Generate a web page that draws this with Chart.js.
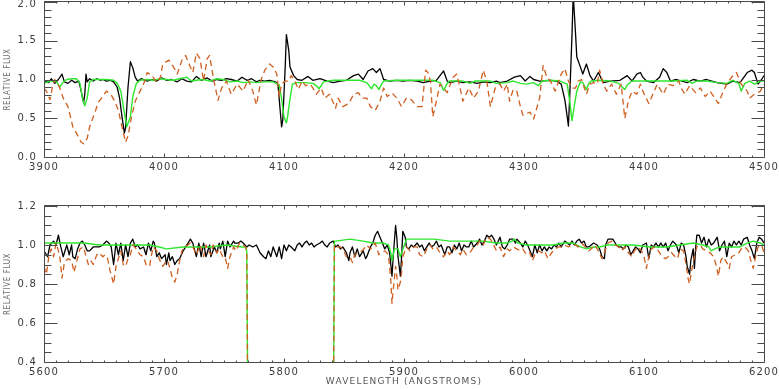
<!DOCTYPE html>
<html>
<head>
<meta charset="utf-8">
<script src="https://cdn.jsdelivr.net/npm/chart.js@4.4.0/dist/chart.umd.min.js"></script>
<style>
  html, body { margin: 0; padding: 0; background: #fff; }
  #wrap { position: relative; width: 779px; height: 389px; overflow: hidden; }
  canvas { position: absolute; left: 0; }
  #top { top: 0; }
  #bottom { top: 200px; }
</style>
</head>
<body>
<div id="wrap">
  <canvas id="top" width="779" height="180"></canvas>
  <canvas id="bottom" width="779" height="189"></canvas>
</div>
<script>
// ---- upper panel (3900-4500 A) ----
const obsWaveA = [3900,3904,3906,3909,3912,3915,3917,3920,3923,3926,3929,3931,3933,3934,3935,3936,3938,3941,3944,3947,3949,3952,3955,3958,3961,3963,3965,3967,3968,3970,3972,3974,3976,3978,3981,3986,3990,3994,3998,4002,4006,4011,4015,4019,4023,4027,4031,4036,4040,4044,4048,4052,4056,4061,4065,4069,4073,4077,
  4080,4084,4088,4093,4095,4097,4098,4099,4101,4102,4104,4105,4108,4111,4115,4120,4124,4130,4136,4141,4147,4152,4158,4162,4166,4170,4174,4177,4180,4183,4188,4194,4199,4205,4211,4216,4222,4227,4230,4233,4236,4238,4244,4249,4255,4261,4266,4272,4277,
  4280,4286,4292,4297,4301,4305,4308,4313,4322,4327,4331,4334,4336,4337,4338,4340,4341,4343,4344,4347,4349,4352,4355,4358,4362,4366,4372,4380,4386,4390,4394,4397,4399,4402,4408,4413,4416,4419,4422,4427,4436,4441,4447,4452,4461,4469,4474,4480,4486,4490,4492,4495,4498,4500];
const obsFluxA = [0.99,0.96,1.01,0.95,1.00,1.07,0.97,0.95,0.99,0.96,0.98,0.85,0.70,0.81,1.07,0.97,1.01,0.98,1.01,0.99,1.00,0.98,0.99,0.97,0.90,0.76,0.52,0.31,0.38,0.90,1.23,1.15,1.03,0.98,1.01,0.98,1.00,0.98,1.02,0.99,1.00,0.97,1.01,0.98,0.97,1.04,0.99,1.02,0.98,1.00,0.99,1.01,1.00,0.98,1.03,0.99,1.01,0.97,
  0.99,0.98,0.99,0.97,0.93,0.57,0.39,0.48,1.16,1.58,1.37,1.16,1.05,1.00,0.99,1.04,0.99,1.01,0.98,0.96,0.98,0.99,1.05,1.07,1.00,1.11,1.14,1.09,1.14,1.00,0.98,0.99,0.98,0.99,0.98,0.96,0.98,0.99,1.05,1.11,0.98,0.96,0.98,0.96,0.97,0.95,0.97,0.96,0.98,
  0.96,0.98,1.03,1.05,0.98,1.04,1.00,0.98,0.99,0.98,0.94,0.74,0.52,0.40,0.74,1.58,2.10,1.58,1.29,1.16,1.07,1.20,1.05,0.98,1.09,0.96,0.98,0.99,1.05,0.98,1.07,1.09,1.03,0.98,0.96,1.03,1.14,1.09,0.98,1.00,0.96,1.00,0.98,1.00,0.96,0.94,0.98,0.96,1.09,1.12,1.09,0.94,1.00,1.05];

const fitWaveA = [3900,3905,3909,3911,3913,3916,3919,3923,3927,3930,3932,3934,3936,3938,3941,3947,3952,3958,3961,3964,3967,3969,3972,3974,3977,3980,3986,3991,3997,4002,4008,4013,4019,4023,4027,4033,4038,4044,4049,4055,4061,4066,4072,4077,
  4083,4091,4096,4098,4100,4102,4103,4105,4107,4111,4118,4124,4127,4129,4131,4133,4141,4152,4163,4169,4171,4173,4175,4177,4179,4181,4183,4194,4211,4224,4230,4233,4236,4238,4249,4255,4259,4272,4277,
  4286,4291,4297,4302,4308,4312,4315,4322,4330,4336,4338,4340,4342,4344,4347,4349,4352,4354,4356,4363,4372,4379,4382,4384,4386,4390,4405,4424,4436,4440,4444,4452,4461,4469,4474,4479,4481,4484,4488,4492,4497,4500];
const fitFluxA = [0.95,0.98,0.98,0.96,0.90,0.97,1.00,1.01,1.01,0.95,0.76,0.66,0.76,0.97,1.00,1.00,1.00,0.99,0.95,0.85,0.57,0.39,0.52,0.78,0.95,0.99,1.00,0.99,1.01,1.00,0.99,1.01,1.03,0.98,0.99,1.00,0.98,1.01,1.00,0.97,0.98,0.96,0.97,0.96,
  0.97,0.97,0.93,0.75,0.52,0.44,0.52,0.75,0.94,0.96,0.96,0.95,0.92,0.88,0.92,0.97,0.99,0.99,0.99,0.96,0.92,0.88,0.94,0.92,0.87,0.93,0.98,0.99,0.99,0.99,0.96,0.86,0.95,0.98,0.98,0.95,0.98,0.98,0.95,
  0.96,0.98,0.95,0.94,0.96,0.92,0.98,0.99,0.98,0.94,0.73,0.47,0.67,0.85,0.97,0.96,0.87,0.95,0.98,0.99,0.98,0.95,0.90,0.87,0.93,0.98,0.98,0.98,0.99,0.95,0.98,0.98,0.96,0.95,0.99,0.95,0.85,0.95,0.98,0.94,0.98,0.98];

const cmpWaveA = [3900,3902,3905,3907,3909,3913,3916,3920,3924,3929,3931,3933,3936,3938,3943,3945,3948,3952,3956,3959,3962,3965,3968,3970,3973,3976,3980,3983,3986,3990,3994,3997,3999,4004,4008,4011,4015,4018,4022,4024,4027,4030,4033,4036,4038,4041,4045,4048,4052,4056,4061,4066,4070,4074,4077,
  4081,4084,4088,4091,4094,4096,4098,4101,4104,4106,4109,4112,4115,4118,4122,4124,4127,4131,4134,4138,4143,4145,4149,4154,4158,4162,4165,4169,4172,4176,4180,4183,4186,4190,4194,4198,4202,4206,4211,4215,4218,4220,4222,4224,4227,4230,4233,4236,4241,4244,4247,4249,4254,4258,4262,4266,4269,4272,4276,
  4280,4283,4286,4288,4291,4294,4297,4299,4302,4305,4308,4311,4313,4316,4319,4322,4326,4329,4331,4334,4337,4340,4343,4345,4348,4352,4355,4358,4361,4363,4366,4369,4373,4377,4381,4384,4387,4390,4394,4397,4399,4404,4406,4411,4416,4420,4424,4429,4431,4434,4438,4443,4447,4451,4455,4459,4462,4465,4469,4473,4477,4481,4486,4488,4492,4497,4500];
const cmpFluxA = [0.89,0.85,0.74,0.90,1.00,0.90,0.76,0.65,0.39,0.25,0.19,0.17,0.24,0.39,0.60,0.70,0.76,0.85,0.80,0.72,0.60,0.39,0.19,0.27,0.52,0.72,0.85,0.94,1.09,1.05,0.96,1.03,1.20,1.25,1.16,1.07,1.25,1.31,1.16,1.09,1.34,1.27,0.98,1.27,1.31,1.03,0.73,0.89,0.98,0.81,0.94,0.85,1.00,0.85,0.67,
  1.00,1.12,1.20,1.16,1.07,0.78,0.94,0.98,0.98,1.05,0.98,0.87,0.98,0.92,0.94,0.89,0.81,0.89,0.76,0.81,0.63,0.76,0.65,0.69,0.81,0.83,0.76,0.76,0.65,0.60,0.72,0.89,0.78,0.83,0.76,0.65,0.76,0.74,0.65,0.65,1.12,1.09,0.98,0.52,0.72,0.94,0.89,0.83,1.03,1.07,0.87,0.72,0.89,0.76,0.85,1.12,0.98,0.65,0.89,
  0.94,0.85,0.94,0.72,0.87,0.85,0.65,0.54,0.56,0.58,0.49,0.65,0.76,1.18,1.03,0.98,0.85,0.98,1.07,1.14,0.98,0.89,0.89,0.98,1.00,0.81,0.94,0.96,0.94,1.12,0.94,0.85,0.94,0.81,0.94,0.50,0.72,0.85,0.81,0.94,0.85,0.69,0.76,0.94,0.81,0.94,0.92,0.98,0.89,0.81,0.92,0.83,0.89,0.78,0.85,0.76,0.69,0.81,0.94,1.03,1.09,0.94,0.85,0.76,0.81,0.85,0.94];

// ---- lower panel (5600-6200 A) ----
const obsWaveB = [5600,5602,5603,5605,5608,5610,5612,5614,5616,5619,5621,5623,5624,5626,5628,5630,5632,5634,5636,5638,5641,5644,5646,5649,5652,5654,5656,5658,5660,5662,5664,5666,5668,5670,5672,5674,5676,5678,5680,5683,5685,5687,5689,5691,5692,5694,5696,5698,5701,5702,5704,5705,5707,5709,5711,5713,5716,5718,5720,5722,5724,5727,5729,5731,5733,5735,5738,5739,5742,5744,5746,5747,5749,5751,5753,5755,5758,5759,5762,5764,5766,5769,5771,5774,5777,
  5780,5783,5785,5787,5789,5791,5794,5796,5798,5800,5802,5804,5806,5809,5811,5813,5815,5817,5819,5821,5823,5825,5827,5830,5832,5834,5836,5838,5841,5843,5845,5847,5849,5852,5854,5855,5857,5859,5861,5863,5866,5868,5869,5872,5874,5876,5878,5880,5882,5884,5886,5888,5890,5891,5893,5894,5895,5897,5898,5899,5901,5902,5904,5906,5908,5911,5913,5915,5917,5919,5921,5923,5925,5927,5929,5931,5934,5936,5938,5940,5942,5944,5946,5948,5950,5952,5954,5956,5958,5961,5963,5965,5967,5969,5971,5973,5975,5977,5980,
  5982,5984,5986,5988,5991,5993,5994,5997,5999,6001,6003,6005,6007,6009,6011,6013,6015,6017,6019,6021,6023,6025,6027,6029,6031,6034,6036,6038,6040,6042,6044,6046,6048,6050,6052,6054,6056,6058,6061,6063,6065,6067,6068,6070,6072,6074,6077,6079,6081,6083,6085,6087,6089,6091,6093,6095,6097,6099,6102,6104,6106,6108,6110,6112,6114,6116,6118,6120,6122,6124,6127,6129,6131,6133,6135,6136,6138,6139,6141,6142,6143,6144,6146,6148,6150,6152,6154,6156,6158,6161,6163,6165,6167,6169,6171,6173,6175,6177,6179,6181,6183,6186,6188,6190,6192,6194,6196,6198,6200];
const obsFluxB = [0.97,0.95,0.94,1.00,1.02,1.00,1.05,0.99,0.94,1.00,0.95,1.00,0.94,0.93,0.98,1.01,1.02,1.00,0.97,0.97,0.99,0.99,0.99,1.00,1.02,1.01,0.99,0.90,1.01,0.95,1.01,0.92,1.00,0.94,1.01,1.03,0.99,1.00,0.98,0.99,0.95,1.01,0.97,1.02,1.01,0.94,0.96,0.93,0.95,0.90,0.96,0.92,0.94,0.90,0.92,0.93,0.97,0.99,1.01,1.03,1.01,0.94,1.01,0.94,1.01,0.94,1.00,0.94,0.99,0.96,1.01,0.98,1.02,0.94,1.02,0.99,1.02,1.01,1.01,1.02,1.01,0.99,1.00,0.99,1.00,
  0.96,0.94,0.93,0.97,0.94,0.99,0.94,0.99,0.93,1.00,0.97,1.00,0.99,0.97,1.00,1.01,0.99,1.01,1.02,1.00,1.01,0.99,1.00,1.01,1.02,1.00,0.99,1.01,1.02,0.99,1.00,0.98,0.99,0.96,0.92,0.96,0.99,0.94,0.98,0.94,0.97,0.93,0.94,0.99,1.01,1.05,1.07,1.04,1.01,0.98,1.00,0.96,0.84,0.94,1.10,1.04,0.94,0.84,0.94,1.07,1.04,0.99,0.98,1.00,0.99,1.01,0.99,1.00,0.97,0.99,1.01,0.99,1.00,1.02,0.99,1.00,0.95,0.99,0.99,0.96,1.00,0.98,1.01,0.97,1.00,0.99,0.99,1.02,0.99,1.01,1.03,1.00,1.02,1.05,1.04,1.05,1.03,1.00,1.04,
  0.99,0.98,1.00,1.03,1.03,1.01,1.03,1.01,0.99,1.02,1.00,0.97,0.94,1.00,0.96,1.00,0.97,0.99,0.97,0.99,0.98,1.00,0.99,1.01,0.99,1.02,1.01,1.00,1.02,1.00,1.02,1.03,1.01,1.02,0.99,0.99,1.00,1.01,1.00,0.98,0.94,0.93,1.00,1.03,1.03,1.03,1.00,0.99,0.99,0.98,1.00,0.99,0.95,0.97,0.99,0.98,0.96,1.00,1.01,0.93,1.00,0.99,1.01,0.99,1.01,0.99,1.01,0.97,1.00,1.02,1.00,0.96,1.01,1.00,0.94,0.89,0.85,0.92,0.98,0.88,0.98,1.05,1.05,1.01,1.04,0.99,1.03,1.00,1.01,1.04,0.97,1.00,1.02,0.94,1.01,0.99,1.02,1.00,1.02,1.00,1.03,1.04,1.00,0.97,0.93,1.01,1.04,1.03,1.01];

const fitWaveB = [5600,5619,5633,5646,5660,5674,5688,5696,5702,5716,5727,5738,5752,5765,5768,5769,5770,5841,5842,5843,5855,5866,5874,5883,5887,5889,5890,5892,5895,5897,5898,5902,5911,5925,5938,5952,5966,5977,5986,5990,5992,5995,6002,6013,6024,6033,6041,6047,6052,6058,6063,6069,6077,6091,6105,6119,6130,6141,6149,6154,6156,6159,6163,6169,6175,6180,6186,6191,6197,6200];
const fitFluxB = [1.01,1.01,1.01,1.00,1.00,1.00,1.00,0.99,0.98,0.99,0.99,0.99,1.00,0.99,0.99,0.97,0.00,0.00,1.02,1.02,1.03,1.02,1.01,1.01,1.00,0.96,0.92,0.98,0.98,0.94,0.96,1.03,1.03,1.03,1.02,1.02,1.02,1.01,1.01,1.02,1.03,1.01,1.00,1.00,1.00,1.01,1.01,0.99,0.98,0.99,0.99,1.00,1.00,1.00,0.99,0.99,1.00,1.01,1.00,0.99,0.97,0.98,0.99,0.99,0.99,0.99,1.01,1.02,1.01,1.00];

const cmpWaveB = [5600,5602,5604,5606,5608,5610,5613,5615,5617,5620,5623,5625,5627,5630,5633,5635,5637,5639,5641,5644,5646,5649,5651,5653,5655,5658,5660,5662,5664,5666,5668,5670,5672,5674,5677,5680,5683,5685,5688,5689,5691,5694,5696,5699,5701,5703,5705,5707,5709,5711,5713,5715,5717,5720,5722,5724,5727,5730,5733,5735,5737,5739,5741,5744,5746,5749,5751,5753,5755,5758,5760,5763,5766,5768,5769,5770,5841,
  5842,5843,5844,5847,5849,5852,5855,5857,5859,5862,5865,5868,5869,5872,5874,5876,5879,5881,5884,5887,5889,5890,5891,5893,5894,5895,5897,5898,5899,5902,5905,5908,5911,5913,5916,5919,5922,5924,5927,5930,5933,5936,5938,5941,5944,5947,5949,5952,5955,5958,5961,5963,5966,5969,5972,5974,5977,5980,
  5983,5986,5988,5991,5994,5997,5999,6002,6005,6007,6009,6012,6015,6017,6020,6023,6026,6029,6031,6034,6037,6040,6043,6045,6048,6051,6054,6056,6059,6062,6065,6068,6070,6073,6076,6079,6081,6084,6087,6090,6092,6095,6098,6100,6102,6104,6106,6109,6112,6115,6118,6120,6123,6126,6128,6130,6133,6135,6137,6138,6140,6142,6144,6147,6149,6152,6155,6158,6160,6162,6164,6166,6169,6171,6173,6176,6179,6181,6184,6187,6189,6191,6193,6195,6198,6200];
const cmpFluxB = [0.89,0.85,0.94,0.98,0.94,1.01,0.95,0.83,0.91,0.93,0.92,0.86,0.91,0.98,0.99,0.94,0.90,0.92,0.90,0.95,0.96,0.94,0.95,0.93,0.87,0.80,0.89,0.93,0.97,0.90,0.89,0.93,0.95,1.00,0.98,0.95,0.94,0.90,0.89,0.93,0.99,0.97,0.93,0.89,0.91,0.92,0.88,0.83,0.81,0.85,0.92,0.97,0.99,1.00,1.01,0.99,0.95,1.00,0.94,1.00,0.97,0.95,1.00,0.96,0.98,0.94,0.94,0.88,0.94,0.99,0.97,1.01,1.00,0.99,0.96,0.00,0.00,
  1.00,1.00,0.99,0.99,0.98,0.94,0.94,0.91,0.95,0.96,0.97,0.99,1.00,0.98,0.99,1.01,0.95,0.96,0.97,0.95,0.82,0.70,0.77,0.89,0.84,0.77,0.81,0.86,0.94,0.99,0.97,0.99,0.99,0.95,0.94,0.98,1.00,0.98,0.99,0.96,0.94,0.97,0.95,0.99,0.97,0.95,0.98,0.95,0.96,0.99,1.00,1.02,1.00,1.04,1.03,1.01,0.97,0.99,
  0.94,0.98,0.97,0.99,0.98,0.97,0.98,0.95,0.96,0.92,0.95,0.97,0.96,0.97,0.93,0.96,0.98,0.99,0.99,1.00,0.99,1.00,1.00,0.99,1.01,0.99,0.97,0.98,1.00,0.97,0.93,0.98,1.01,1.02,1.00,0.99,0.97,0.99,0.96,0.94,0.97,0.99,0.97,0.94,0.88,0.94,0.98,0.99,0.97,0.94,0.93,0.94,0.96,0.94,0.93,0.98,0.97,0.90,0.82,0.80,0.88,0.94,0.99,1.00,0.98,0.97,0.96,0.94,0.90,0.84,0.92,0.94,0.91,0.88,0.94,0.95,0.96,0.98,0.99,0.97,0.92,0.88,0.94,0.99,1.00,0.96];

// tick labels
const xTicksA = [3900, 4000, 4100, 4200, 4300, 4400, 4500];
const yTicksA = [0.0, 0.5, 1.0, 1.5, 2.0];
const xTicksB = [5600, 5700, 5800, 5900, 6000, 6100, 6200];
const yTicksB = [0.4, 0.6, 0.8, 1.0, 1.2];

const TICK_COLOR = '#3a3a3a';
const FAMILY = '"DejaVu Sans", sans-serif';

function pairs(xs, ys) {
  return xs.map((x, i) => ({ x: x, y: ys[i] }));
}

// box frame with inward major/minor ticks on all four sides (IDL look)
const boxTicks = {
  id: 'boxTicks',
  beforeDraw(chart) {
    chart.ctx.letterSpacing = '1.2px';
  },
  afterDraw(chart, args, o) {
    const ctx = chart.ctx, a = chart.chartArea;
    const xs = chart.scales.x, ys = chart.scales.y;
    const L = Math.round(a.left) + 0.5, R = Math.round(a.right) + 0.5;
    const T = Math.round(a.top) - 0.5, B = Math.round(a.bottom) + 0.5;
    ctx.save();
    ctx.strokeStyle = '#4a4a4a';
    ctx.lineWidth = 1;
    ctx.beginPath();
    ctx.moveTo(L, T); ctx.lineTo(R, T); ctx.lineTo(R, B); ctx.lineTo(L, B); ctx.closePath();

    let n = Math.round((xs.max - xs.min) / o.xMinor);
    for (let i = 0; i <= n; i++) {
      const px = Math.round(xs.getPixelForValue(xs.min + i * o.xMinor)) + 0.5;
      const len = i % o.xEvery === 0 ? 4 : 2;
      ctx.moveTo(px, B); ctx.lineTo(px, B - len);
      ctx.moveTo(px, T); ctx.lineTo(px, T + len);
    }
    n = Math.round((ys.max - ys.min) / o.yMinor);
    for (let i = 0; i <= n; i++) {
      const py = Math.round(ys.getPixelForValue(ys.min + i * o.yMinor)) + 0.5;
      const len = i % o.yEvery === 0 ? 13 : 7;
      ctx.moveTo(L, py); ctx.lineTo(L + len, py);
      ctx.moveTo(R, py); ctx.lineTo(R - len, py);
    }
    ctx.stroke();

    // rotated y title
    ctx.letterSpacing = '0.6px';
    ctx.fillStyle = '#707070';
    ctx.font = '8px "Liberation Sans Narrow", "DejaVu Sans Condensed", sans-serif';
    ctx.textAlign = 'center';
    ctx.textBaseline = 'middle';
    ctx.translate(8, (a.top + a.bottom) / 2);
    ctx.rotate(-Math.PI / 2);
    ctx.fillText('RELATIVE FLUX', 0, 0);
    ctx.restore();
  }
};

function spectrumDatasets(obsW, obsF, fitW, fitF, cmpW, cmpF) {
  // first dataset is drawn on top
  return [
    { data: pairs(cmpW, cmpF), borderColor: '#cf5f1f', borderWidth: 1.3, borderDash: [6, 4] },
    { data: pairs(fitW, fitF), borderColor: '#2ee62e', borderWidth: 1.4 },
    { data: pairs(obsW, obsF), borderColor: '#000000', borderWidth: 1.3 }
  ];
}

function makePanel(id, datasets, xTicks, yTicks, xHeight, padTop, xTitle, tickOpts) {
  const yTop = yTicks[yTicks.length - 1];
  return new Chart(document.getElementById(id), {
    type: 'line',
    data: { datasets: datasets },
    options: {
      responsive: false,
      animation: false,
      devicePixelRatio: 1,
      events: [],
      layout: { padding: { left: 0, right: 15, top: padTop, bottom: 0 } },
      elements: { point: { radius: 0 }, line: { tension: 0, borderJoinStyle: 'round', fill: false } },
      plugins: { legend: { display: false }, tooltip: { enabled: false }, boxTicks: tickOpts },
      scales: {
        x: {
          type: 'linear',
          min: xTicks[0], max: xTicks[xTicks.length - 1],
          afterBuildTicks: s => { s.ticks = xTicks.map(v => ({ value: v })); },
          afterFit: s => { s.height = xHeight; s.paddingLeft = 0; s.paddingRight = 0; },
          grid: { display: false, drawTicks: false },
          border: { display: false },
          ticks: { color: TICK_COLOR, font: { family: FAMILY, size: 10 }, padding: 4, maxRotation: 0, autoSkip: false, callback: v => String(v) },
          title: xTitle ? { display: true, text: xTitle, color: '#555', font: { family: FAMILY, size: 9 }, padding: { top: 0, bottom: 2 } } : { display: false }
        },
        y: {
          type: 'linear',
          min: yTicks[0], max: yTop,
          afterBuildTicks: s => { s.ticks = yTicks.map(v => ({ value: v })); },
          afterFit: s => { s.width = 44; s.paddingTop = 0; s.paddingBottom = 0; },
          grid: { display: false, drawTicks: false },
          border: { display: false },
          ticks: {
            color: TICK_COLOR,
            padding: 7,
            autoSkip: false,
            // the top label sits just below the frame corner, as in the original
            font: c => ({ family: FAMILY, size: 10, lineHeight: (padTop < 4 && c.tick && c.tick.value === yTop) ? 0.5 : 1.2 }),
            callback: v => (padTop < 4 && v === yTop) ? ['', v.toFixed(1)] : v.toFixed(1)
          }
        }
      }
    },
    plugins: [boxTicks]
  });
}

makePanel('top', spectrumDatasets(obsWaveA, obsFluxA, fitWaveA, fitFluxA, cmpWaveA, cmpFluxA),
  xTicksA, yTicksA, 23, 2, null, { xMinor: 10, xEvery: 10, yMinor: 0.1, yEvery: 5 });

makePanel('bottom', spectrumDatasets(obsWaveB, obsFluxB, fitWaveB, fitFluxB, cmpWaveB, cmpFluxB),
  xTicksB, yTicksB, 27, 6, 'WAVELENGTH (ANGSTROMS)', { xMinor: 10, xEvery: 10, yMinor: 0.05, yEvery: 4 });
</script>
</body>
</html>
